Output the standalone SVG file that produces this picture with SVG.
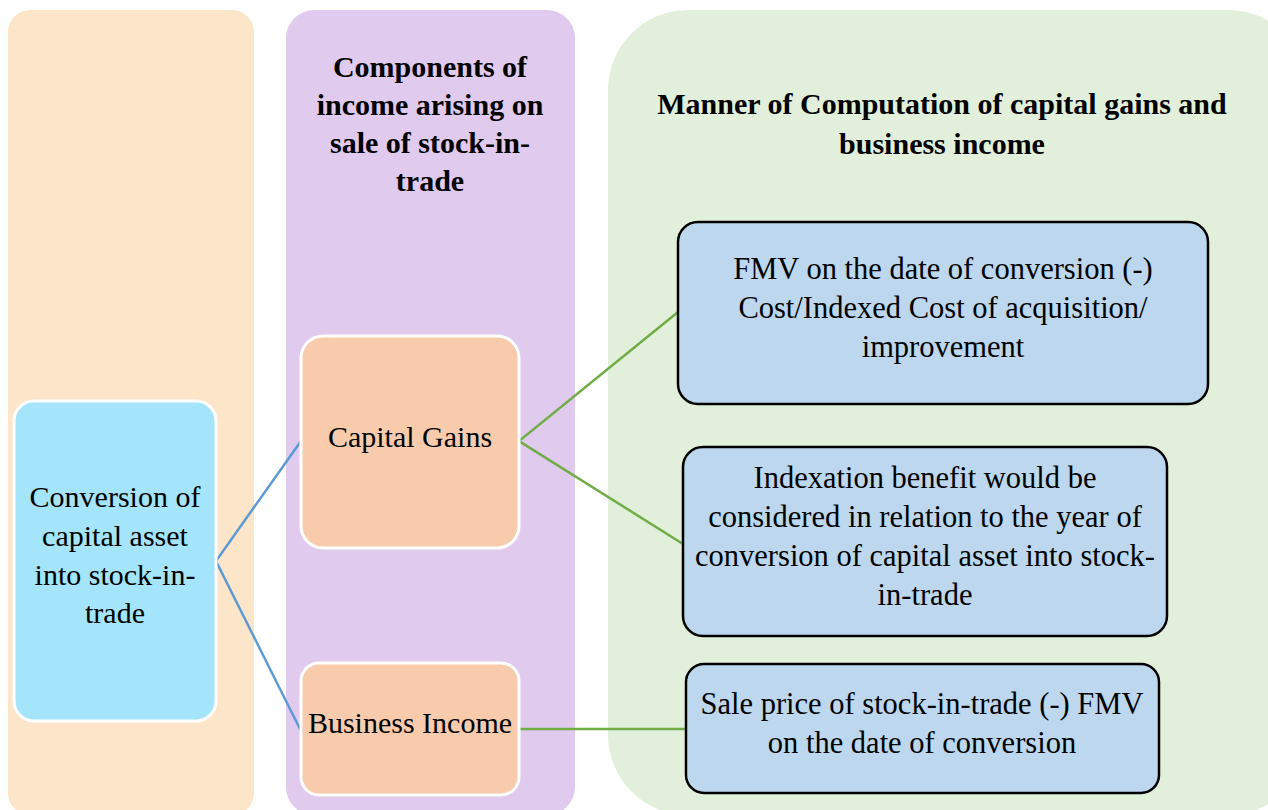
<svg xmlns="http://www.w3.org/2000/svg" width="1268" height="810" viewBox="0 0 1268 810">
<style>
text{font-family:"Liberation Serif","Times New Roman",serif;fill:#000;text-anchor:middle}
.t{font-size:30px}
.b{font-size:30.5px}
.h{font-size:30px;font-weight:bold}
.node{stroke:#fff;stroke-width:3}
.box{fill:#BDD7EE;stroke:#000;stroke-width:2.5}
.cb{fill:none;stroke:#5B9BD5;stroke-width:2.5}
.cg{fill:none;stroke:#70AD47;stroke-width:2.5}
</style>
<rect width="1268" height="810" fill="#fff"/>
<g id="panel-left"><rect x="8" y="10" width="246" height="805" rx="22" fill="#FDE5CA"/></g>
<g id="panel-mid"><rect x="286" y="10" width="289" height="805" rx="28" fill="#E0CAEE"/>
<text class="h" x="430"><tspan x="430" y="77">Components of</tspan><tspan x="430" y="115">income arising on</tspan><tspan x="430" y="153">sale of stock-in-</tspan><tspan x="430" y="191">trade</tspan></text></g>
<g id="panel-right"><rect x="608" y="10" width="700" height="805" rx="80" fill="#E2EFDA"/>
<text class="h" x="942"><tspan x="942" y="114">Manner of Computation of capital gains and</tspan><tspan x="942" y="154">business income</tspan></text></g>
<g id="connectors">
<polyline class="cb" points="301,441 216,561 301,731"/>
<polyline class="cg" points="678,312 519,441 683,544"/>
<line class="cg" x1="519" y1="729" x2="686" y2="729"/>
</g>
<g id="n-conversion"><rect class="node" x="14" y="401" width="202" height="320" rx="20" fill="#A4E5FB"/>
<text class="t"><tspan x="115" y="507">Conversion of</tspan><tspan x="115" y="546">capital asset</tspan><tspan x="115" y="585">into stock-in-</tspan><tspan x="115" y="623">trade</tspan></text></g>
<g id="n-capital-gains"><rect class="node" x="301" y="336" width="218" height="212" rx="22" fill="#F8CBAD"/>
<text class="t" x="410" y="447">Capital Gains</text></g>
<g id="n-business-income"><rect class="node" x="301" y="663" width="218" height="132" rx="18" fill="#F8CBAD"/>
<text class="t" x="410" y="733">Business Income</text></g>
<g id="n-fmv"><rect class="box" x="678" y="222" width="530" height="182" rx="20"/>
<text class="b"><tspan x="943" y="279">FMV on the date of conversion (-)</tspan><tspan x="943" y="318">Cost/Indexed Cost of acquisition/</tspan><tspan x="943" y="357">improvement</tspan></text></g>
<g id="n-indexation"><rect class="box" x="683" y="447" width="484" height="189" rx="20"/>
<text class="b"><tspan x="925" y="488">Indexation benefit would be</tspan><tspan x="925" y="527">considered in relation to the year of</tspan><tspan x="925" y="566">conversion of capital asset into stock-</tspan><tspan x="925" y="605">in-trade</tspan></text></g>
<g id="n-sale"><rect class="box" x="686" y="664" width="473" height="129" rx="18"/>
<text class="b"><tspan x="922" y="714">Sale price of stock-in-trade (-) FMV</tspan><tspan x="922" y="753">on the date of conversion</tspan></text></g>
</svg>
